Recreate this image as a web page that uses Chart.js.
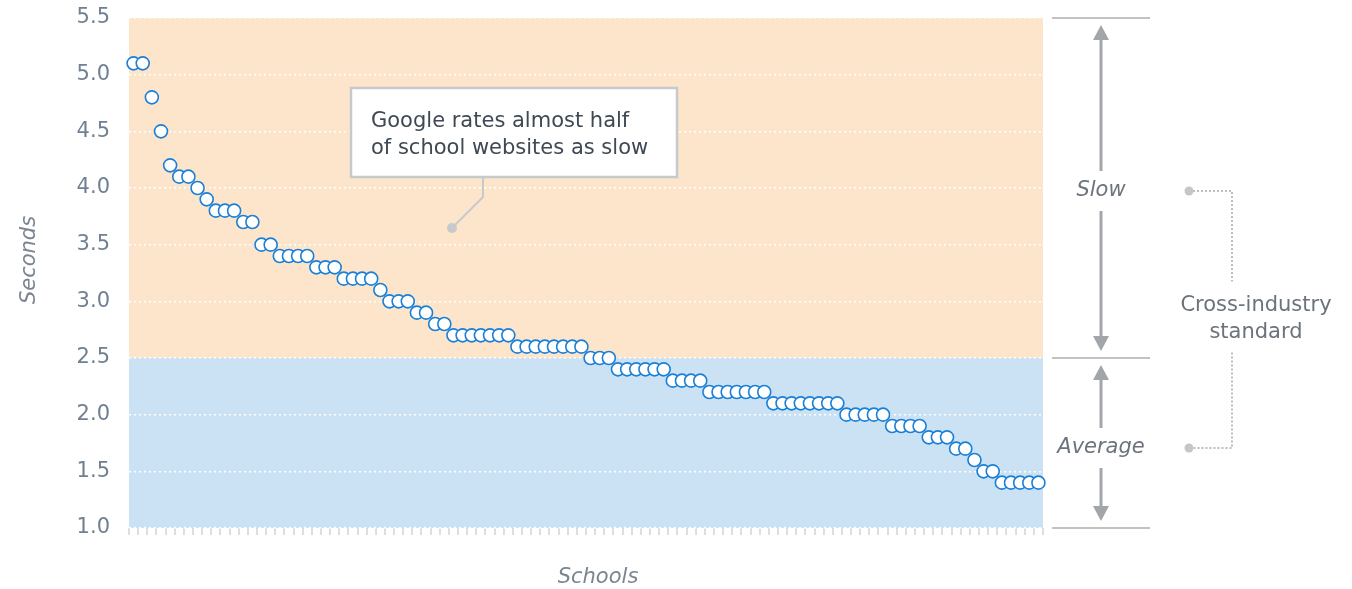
<!DOCTYPE html>
<html>
<head>
<meta charset="utf-8">
<script src="https://cdn.jsdelivr.net/npm/chart.js@4"></script>
<style>
  html, body { margin: 0; padding: 0; background: #fff; }
  canvas { display: block; }
</style>
</head>
<body>
<canvas id="loadChart" width="1352" height="589"></canvas>
<script>
// page load time per school, sorted slowest first
const loadTimes = [
    5.1, 5.1, 4.8, 4.5, 4.2, 4.1, 4.1, 4.0, 3.9, 3.8,
    3.8, 3.8, 3.7, 3.7, 3.5, 3.5, 3.4, 3.4, 3.4, 3.4,
    3.3, 3.3, 3.3, 3.2, 3.2, 3.2, 3.2, 3.1, 3.0, 3.0,
    3.0, 2.9, 2.9, 2.8, 2.8, 2.7, 2.7, 2.7, 2.7, 2.7,
    2.7, 2.7, 2.6, 2.6, 2.6, 2.6, 2.6, 2.6, 2.6, 2.6,
    2.5, 2.5, 2.5, 2.4, 2.4, 2.4, 2.4, 2.4, 2.4, 2.3,
    2.3, 2.3, 2.3, 2.2, 2.2, 2.2, 2.2, 2.2, 2.2, 2.2,
    2.1, 2.1, 2.1, 2.1, 2.1, 2.1, 2.1, 2.1, 2.0, 2.0,
    2.0, 2.0, 2.0, 1.9, 1.9, 1.9, 1.9, 1.8, 1.8, 1.8,
    1.7, 1.7, 1.6, 1.5, 1.5, 1.4, 1.4, 1.4, 1.4, 1.4
];
const schools = loadTimes.map((v, i) => 'School ' + (i + 1));

const yMin = 1.0;
const yMax = 5.5;
const yStep = 0.5;

// bands: [from, to]
const bandNames = ['Average', 'Slow'];
const bandEdges = [1.0, 2.5, 5.5];
const bandColors = ['#cbe2f5', '#fde5cb'];

const xTitle = 'Schools';
const yTitle = 'Seconds';
const noteLines = ['Google rates almost half', 'of school websites as slow'];
const standardLines = ['Cross-industry', 'standard'];

const FONT = "'DejaVu Sans', Verdana, sans-serif";

function arrowHead(ctx, x, tipY, dir) {
    // dir -1 = pointing up, 1 = pointing down
    ctx.beginPath();
    ctx.moveTo(x, tipY);
    ctx.lineTo(x - 8, tipY - dir * 15);
    ctx.lineTo(x + 8, tipY - dir * 15);
    ctx.closePath();
    ctx.fill();
}

const decorPlugin = {
    id: 'decor',
    beforeDraw(chart) {
        const { ctx, chartArea: a, scales: { y } } = chart;
        ctx.save();
        for (let i = 0; i < bandNames.length; i++) {
            const top = y.getPixelForValue(bandEdges[i + 1]);
            const bot = y.getPixelForValue(bandEdges[i]);
            ctx.fillStyle = bandColors[i];
            ctx.fillRect(a.left, top, a.right - a.left, bot - top);
        }
        ctx.restore();
    },
    afterDraw(chart) {
        const { ctx, chartArea: a, scales: { y } } = chart;
        ctx.save();

        // axis titles
        ctx.fillStyle = '#7b8590';
        ctx.font = 'italic 21px ' + FONT;
        ctx.textAlign = 'center';
        ctx.textBaseline = 'middle';
        ctx.fillText(xTitle, a.left + 469, chart.height - 11);
        ctx.save();
        ctx.translate(30, a.top + 242);
        ctx.rotate(-Math.PI / 2);
        ctx.fillText(yTitle, 0, 0);
        ctx.restore();

        // note box
        const bx = a.left + 222, by = 88, bw = 326, bh = 89;
        const px = bx + 132;
        ctx.strokeStyle = '#c6cacd';
        ctx.lineWidth = 2;
        ctx.beginPath();
        ctx.moveTo(px, by + bh);
        ctx.lineTo(px, by + bh + 20);
        ctx.lineTo(px - 31, by + bh + 51);
        ctx.stroke();
        ctx.fillStyle = '#c6cacd';
        ctx.beginPath();
        ctx.arc(px - 31, by + bh + 51, 5, 0, Math.PI * 2);
        ctx.fill();
        ctx.fillStyle = '#fff';
        ctx.fillRect(bx, by, bw, bh);
        ctx.lineWidth = 2.5;
        ctx.strokeRect(bx, by, bw, bh);
        ctx.fillStyle = '#3e4953';
        ctx.font = '21px ' + FONT;
        ctx.textAlign = 'left';
        ctx.textBaseline = 'middle';
        noteLines.forEach((t, i) => ctx.fillText(t, bx + 20, by + 34 + i * 27));

        // right side scale
        const lx0 = a.right + 9, lx1 = a.right + 107, ax = a.right + 58;
        ctx.strokeStyle = '#c2c2c2';
        ctx.lineWidth = 2;
        bandEdges.forEach(v => {
            const py = Math.round(y.getPixelForValue(v));
            ctx.beginPath();
            ctx.moveTo(lx0, py);
            ctx.lineTo(lx1, py);
            ctx.stroke();
        });

        const labelYs = [];
        for (let i = 0; i < bandNames.length; i++) {
            const top = y.getPixelForValue(bandEdges[i + 1]);
            const bot = y.getPixelForValue(bandEdges[i]);
            const mid = (top + bot) / 2 + (i === 0 ? 5 : 3);
            labelYs.push(mid);
            ctx.fillStyle = '#6c737b';
            ctx.font = 'italic 21px ' + FONT;
            ctx.textAlign = 'center';
            ctx.textBaseline = 'middle';
            ctx.fillText(bandNames[i], ax, mid);

            ctx.strokeStyle = '#a2a5a9';
            ctx.fillStyle = '#a2a5a9';
            ctx.lineWidth = 3;
            const tipTop = top + 7, tipBot = bot - 7;
            ctx.beginPath();
            ctx.moveTo(ax, tipTop + 12);
            ctx.lineTo(ax, mid - 20);
            ctx.moveTo(ax, mid + 20);
            ctx.lineTo(ax, tipBot - 12);
            ctx.stroke();
            arrowHead(ctx, ax, tipTop, -1);
            arrowHead(ctx, ax, tipBot, 1);
        }

        // connector to cross-industry standard
        const dx = a.right + 146, vx = a.right + 189, tx = a.right + 213;
        const ty = (labelYs[0] + labelYs[1]) / 2;
        ctx.strokeStyle = '#b9bcc0';
        ctx.fillStyle = '#c4c6c9';
        ctx.lineWidth = 2;
        ctx.setLineDash([2, 2]);
        ctx.beginPath();
        ctx.moveTo(dx, labelYs[1]);
        ctx.lineTo(vx, labelYs[1]);
        ctx.lineTo(vx, ty - 38);
        ctx.moveTo(vx, ty + 33);
        ctx.lineTo(vx, labelYs[0]);
        ctx.lineTo(dx, labelYs[0]);
        ctx.stroke();
        ctx.setLineDash([]);
        labelYs.forEach(ly => {
            ctx.beginPath();
            ctx.arc(dx, ly, 4.5, 0, Math.PI * 2);
            ctx.fill();
        });
        ctx.fillStyle = '#6c737b';
        ctx.font = '21px ' + FONT;
        ctx.textAlign = 'center';
        standardLines.forEach((t, i) => ctx.fillText(t, tx, ty - 14 + i * 27));

        ctx.restore();
    }
};

const ctx = document.getElementById('loadChart').getContext('2d');
new Chart(ctx, {
    type: 'line',
    data: {
        labels: schools,
        datasets: [{
            label: 'Load time',
            data: loadTimes,
            showLine: false,
            pointRadius: 6.5,
            pointHoverRadius: 6.5,
            pointBorderWidth: 1.6,
            pointBackgroundColor: '#ffffff',
            pointBorderColor: '#1a7fd6'
        }]
    },
    options: {
        responsive: false,
        animation: false,
        devicePixelRatio: 1,
        layout: { padding: { top: 18, right: 309, bottom: 0, left: 0 } },
        plugins: {
            legend: { display: false },
            tooltip: { enabled: false }
        },
        scales: {
            x: {
                type: 'category',
                offset: true,
                border: { display: false },
                grid: {
                    offset: true,
                    drawOnChartArea: false,
                    drawTicks: true,
                    tickLength: 7,
                    color: '#dcdfe2',
                    lineWidth: 2
                },
                ticks: { autoSkip: false, callback: () => '', padding: 0 },
                afterFit: s => { s.height = 61; }
            },
            y: {
                min: yMin,
                max: yMax,
                border: { display: false, dash: [2, 3] },
                grid: {
                    color: '#ffffff',
                    lineWidth: 1.5,
                    drawTicks: true,
                    tickLength: 16,
                    tickColor: 'rgba(0,0,0,0)'
                },
                ticks: {
                    stepSize: yStep,
                    autoSkip: false,
                    padding: 3,
                    color: '#6f8193',
                    font: { family: FONT, size: 21 },
                    callback: v => Number(v).toFixed(1)
                },
                afterFit: s => { s.width = 129; }
            }
        }
    },
    plugins: [decorPlugin]
});
</script>
</body>
</html>
